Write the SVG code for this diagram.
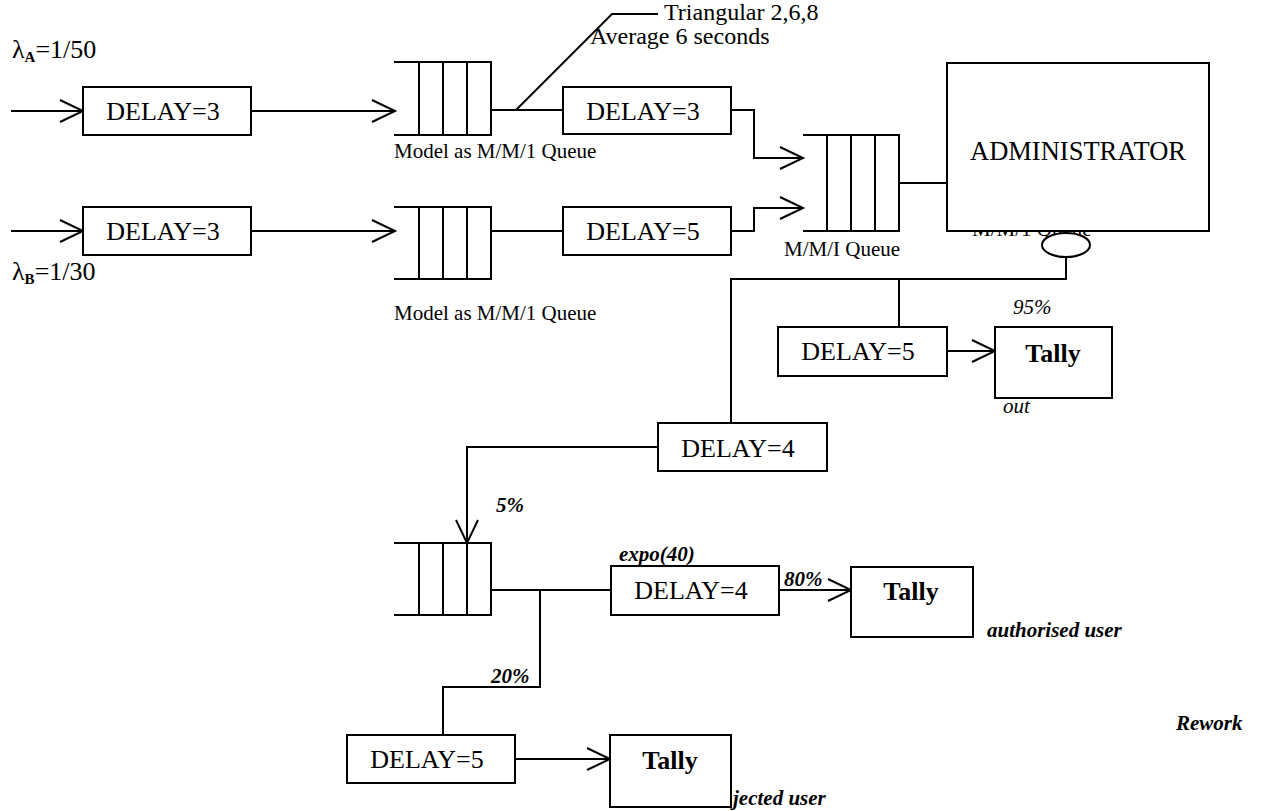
<svg xmlns="http://www.w3.org/2000/svg" width="1269" height="811" viewBox="0 0 1269 811">
<defs>
<style>
.ln{fill:none;stroke:#000;stroke-width:2}
.box{fill:#fff;stroke:#000;stroke-width:2}
.t{font-family:"Liberation Serif","Times New Roman",serif;fill:#000}
.d{font-size:26px}
.s{font-size:21px}
.m{font-size:24px}
.i{font-size:21px;font-style:italic}
.bi{font-size:21px;font-style:italic;font-weight:bold}
.tl{font-size:26px;font-weight:bold}
</style>
<marker id="ah" markerUnits="userSpaceOnUse" viewBox="-26 -14 28 28" markerWidth="28" markerHeight="28" refX="0" refY="0" orient="auto" style="overflow:visible">
<path d="M-23,-11 L0,0 L-23,11" fill="none" stroke="#000" stroke-width="2"/>
</marker>
</defs>
<rect width="1269" height="811" fill="#fff"/>

<g id="connectors" class="ln">
<path d="M11,111 H83" marker-end="url(#ah)"/>
<path d="M251,111 H395" marker-end="url(#ah)"/>
<path d="M491,110 H563"/>
<path d="M516,110 L612,14 H658"/>
<path d="M731,110 H754 V158 H803" marker-end="url(#ah)"/>
<path d="M11,231 H83" marker-end="url(#ah)"/>
<path d="M251,231 H395" marker-end="url(#ah)"/>
<path d="M491,231 H563"/>
<path d="M731,231 H754 V208 H803" marker-end="url(#ah)"/>
<path d="M899,183 H947"/>
<path d="M1066,257 V279 H731 V423"/>
<path d="M899,279 V327"/>
<path d="M947,351 H995" marker-end="url(#ah)"/>
<path d="M658,447 H467 V543" marker-end="url(#ah)"/>
<path d="M491,590 H611"/>
<path d="M540,590 V687 H443 V735"/>
<path d="M779,590 H851" marker-end="url(#ah)"/>
<path d="M515,759 H610" marker-end="url(#ah)"/>
</g>

<g id="lambdaA" class="t">
<text x="12" y="58" style="font-size:26px">λ<tspan dy="4" style="font-size:15px;font-weight:bold">A</tspan><tspan dy="-4">=1/50</tspan></text>
</g>
<g id="lambdaB" class="t">
<text x="12" y="280" style="font-size:26px">λ<tspan dy="4" style="font-size:15px;font-weight:bold">B</tspan><tspan dy="-4">=1/30</tspan></text>
</g>

<g id="delayA1">
<rect class="box" x="83" y="87" width="168" height="48"/>
<text class="t d" x="163" y="120" text-anchor="middle">DELAY=3</text>
</g>
<g id="queueA">
<path class="ln" d="M394,62 H491 V135 H394 M419,62 V135 M443,62 V135 M467,62 V135"/>
<text class="t s" x="394" y="158">Model as M/M/1 Queue</text>
</g>
<g id="triangularNote">
<text class="t m" x="664" y="20">Triangular 2,6,8</text>
<text class="t m" x="590" y="44">Average 6 seconds</text>
</g>
<g id="delayA2">
<rect class="box" x="563" y="87" width="168" height="47"/>
<text class="t d" x="643" y="120" text-anchor="middle">DELAY=3</text>
</g>

<g id="delayB1">
<rect class="box" x="83" y="207" width="168" height="48"/>
<text class="t d" x="163" y="240" text-anchor="middle">DELAY=3</text>
</g>
<g id="queueB">
<path class="ln" d="M394,207 H491 V279 H394 M419,207 V279 M443,207 V279 M467,207 V279"/>
<text class="t s" x="394" y="320">Model as M/M/1 Queue</text>
</g>
<g id="delayB2">
<rect class="box" x="563" y="207" width="168" height="48"/>
<text class="t d" x="643" y="240" text-anchor="middle">DELAY=5</text>
</g>

<g id="queueAdmin">
<path class="ln" d="M803,135 H899 V231 H803 M827,135 V231 M851,135 V231 M875,135 V231"/>
<text class="t s" x="784" y="256">M/M/I Queue</text>
</g>

<g id="administrator">
<text class="t s" x="972" y="236">M/M/1 Queue</text>
<rect class="box" x="947" y="63" width="262" height="168"/>
<text class="t" x="1078" y="160" text-anchor="middle" style="font-size:26.5px">ADMINISTRATOR</text>
</g>
<g id="decision">
<ellipse class="box" cx="1066" cy="245" rx="24" ry="12"/>
</g>

<g id="delayOut">
<rect class="box" x="778" y="327" width="169" height="49"/>
<text class="t d" x="858" y="360" text-anchor="middle">DELAY=5</text>
</g>
<g id="tallyOut">
<rect class="box" x="995" y="327" width="117" height="71"/>
<text class="t tl" x="1053" y="362" text-anchor="middle">Tally</text>
<text class="t i" x="1013" y="314">95%</text>
<text class="t i" x="1003" y="413">out</text>
</g>

<g id="delayRework">
<rect class="box" x="658" y="423" width="169" height="48"/>
<text class="t d" x="738" y="457" text-anchor="middle">DELAY=4</text>
<text class="t bi" x="496" y="512">5%</text>
</g>

<g id="queueRework">
<path class="ln" d="M394,543 H491 V615 H394 M419,543 V615 M443,543 V615 M467,543 V615"/>
</g>

<g id="delayAuth">
<rect class="box" x="611" y="566" width="168" height="49"/>
<text class="t d" x="691" y="599" text-anchor="middle">DELAY=4</text>
<text class="t bi" x="619" y="561">expo(40)</text>
<text class="t bi" x="784" y="586">80%</text>
</g>
<g id="tallyAuth">
<rect class="box" x="851" y="567" width="122" height="70"/>
<text class="t tl" x="911" y="600" text-anchor="middle">Tally</text>
<text class="t bi" x="987" y="637">authorised user</text>
</g>
<g id="reworkLabel">
<text class="t bi" x="1176" y="730">Rework</text>
</g>

<g id="delayReject">
<rect class="box" x="347" y="735" width="168" height="48"/>
<text class="t d" x="427" y="768" text-anchor="middle">DELAY=5</text>
<text class="t bi" x="491" y="683">20%</text>
</g>
<g id="tallyReject">
<rect class="box" x="610" y="735" width="121" height="72"/>
<text class="t tl" x="670" y="769" text-anchor="middle">Tally</text>
<text class="t bi" x="733" y="805">jected user</text>
</g>
</svg>
